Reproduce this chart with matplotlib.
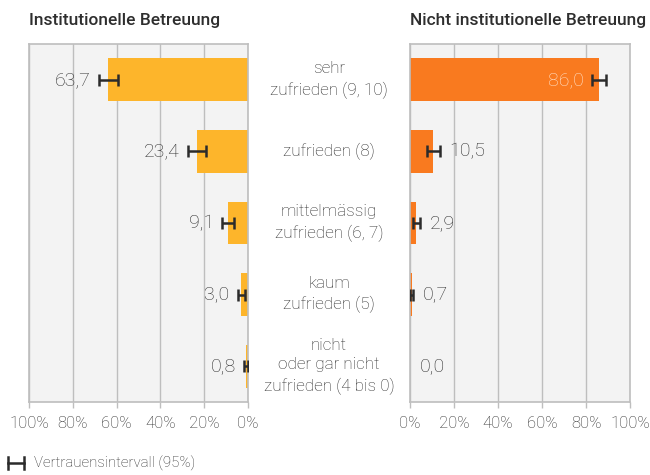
import matplotlib
matplotlib.use("Agg")
import matplotlib.pyplot as plt
import matplotlib.transforms as mtransforms
from matplotlib.lines import Line2D
import numpy as np

plt.rcParams['font.family'] = ['Roboto', 'DejaVu Sans']

# data
categories = ["sehr\nzufrieden (9, 10)", "zufrieden (8)", "mittelmässig\nzufrieden (6, 7)",
              "kaum\nzufrieden (5)", "nicht\noder gar nicht\nzufrieden (4 bis 0)"]
inst_values = [63.7, 23.4, 9.1, 3.0, 0.8]
inst_err = [4.5, 4.0, 2.6, 1.6, 1.0]
noninst_values = [86.0, 10.5, 2.9, 0.7, 0.0]
noninst_err = [3.2, 3.0, 1.7, 0.8, 0.0]
xticks = [0, 20, 40, 60, 80, 100]
xtick_labels = ["0%", "20%", "40%", "60%", "80%", "100%"]

col_inst = "#FDB52B"
col_non = "#F97A1F"
bg = "#F3F3F3"
grid_col = "#BEBEBE"
text_col = "#2c2c2c"
weight = "light"

fig = plt.figure(figsize=(6.5, 4.75), dpi=100)
ax_l = fig.add_axes([29 / 650, 1 - 402 / 475, 219 / 650, 358 / 475])
ax_r = fig.add_axes([410 / 650, 1 - 402 / 475, 220 / 650, 358 / 475])

y = np.arange(len(categories))


def style_axis(ax):
    ax.set_facecolor(bg)
    ax.set_xlim(0, 100)
    ax.set_ylim(4.5, -0.5)
    ax.set_xticks(xticks)
    ax.set_xticklabels(xtick_labels)
    ax.set_yticks([])
    ax.grid(axis="x", color=grid_col, linewidth=1)
    ax.set_axisbelow(True)
    for s in ax.spines.values():
        s.set_color(grid_col)
        s.set_linewidth(1.2)
    ax.tick_params(axis="x", colors=grid_col, labelcolor=text_col, length=4,
                   width=1, labelsize=12, pad=6)
    for lab in ax.get_xticklabels():
        lab.set_fontweight(weight)


style_axis(ax_l)
style_axis(ax_r)
ax_l.invert_xaxis()

ax_l.barh(y, inst_values, height=0.6, color=col_inst, zorder=2)
ax_r.barh(y, noninst_values, height=0.6, color=col_non, zorder=2)

ax_l.errorbar(inst_values, y, xerr=inst_err, fmt="none", ecolor="#2b2b2b",
              elinewidth=1.8, capsize=4.2, capthick=1.8, zorder=3)
mask = [e > 0 for e in noninst_err]
ax_r.errorbar(np.array(noninst_values)[mask], y[mask], xerr=np.array(noninst_err)[mask],
              fmt="none", ecolor="#2b2b2b", elinewidth=1.8, capsize=4.2, capthick=1.8, zorder=3)

# value labels
for v, e, yy in zip(inst_values, inst_err, y):
    ax_l.annotate(f"{v:.1f}".replace(".", ","), xy=(v + e, yy), xytext=(-6, 0),
                  textcoords="offset points", ha="right", va="center",
                  fontsize=14, color=text_col, fontweight=weight, zorder=4)
for v, e, yy in zip(noninst_values, noninst_err, y):
    label = f"{v:.1f}".replace(".", ",")
    if v > 50:
        ax_r.annotate(label, xy=(v - e, yy), xytext=(-6, 0), textcoords="offset points",
                      ha="right", va="center", fontsize=14, color="#FFE3CC",
                      fontweight=weight, zorder=4)
    else:
        ax_r.annotate(label, xy=(v + e, yy), xytext=(7, 0), textcoords="offset points",
                      ha="left", va="center", fontsize=14, color=text_col,
                      fontweight=weight, zorder=4)

# middle category labels
trans = mtransforms.blended_transform_factory(fig.transFigure, ax_l.transData)
for cat, yy in zip(categories, y):
    fig.text(329 / 650, yy, cat, transform=trans, ha="center", va="center",
             fontsize=12.3, color=text_col, fontweight=weight, linespacing=1.4)

# titles
fig.text(29 / 650, 1 - 20 / 475, "Institutionelle Betreuung", ha="left", va="center",
         fontsize=12.5, fontweight="medium", color="#2e2e2e")
fig.text(410 / 650, 1 - 20 / 475, "Nicht institutionelle Betreuung", ha="left", va="center",
         fontsize=12.5, fontweight="medium", color="#2e2e2e")

# legend
ly = 1 - 463 / 475
fig.add_artist(Line2D([8 / 650, 24 / 650], [ly, ly], color="#2b2b2b", lw=1.8,
                      transform=fig.transFigure))
for lx in (8 / 650, 24 / 650):
    fig.add_artist(Line2D([lx, lx], [ly - 6 / 475, ly + 6 / 475], color="#2b2b2b", lw=1.8,
                          transform=fig.transFigure))
fig.text(34 / 650, ly, "Vertrauensintervall (95%)", ha="left", va="center",
         fontsize=10.8, color=text_col, fontweight=weight)

fig.savefig("out.png", dpi=100)
